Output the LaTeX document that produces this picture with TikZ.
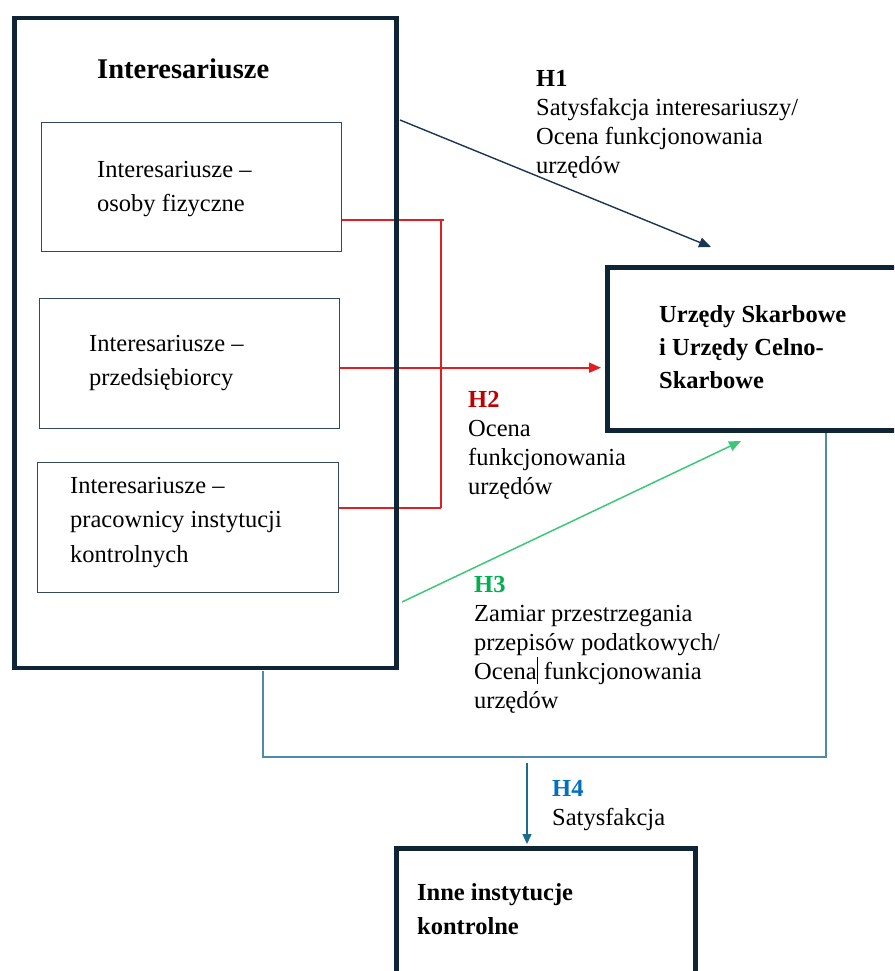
\documentclass[tikz,border=0pt]{standalone}
\usepackage{fontspec}
\setmainfont{Liberation Serif}
\usetikzlibrary{arrows.meta,backgrounds}

\definecolor{navy}{HTML}{0F2535}
\definecolor{boxline}{HTML}{34495A}
\definecolor{redline}{HTML}{E02020}
\definecolor{redtext}{HTML}{C00000}
\definecolor{greenline}{HTML}{3CC878}
\definecolor{greentext}{HTML}{00B050}
\definecolor{blueline}{HTML}{5189AB}
\definecolor{bluearrow}{HTML}{1F6A8F}
\definecolor{bluetext}{HTML}{0070C0}
\definecolor{honeline}{HTML}{1C3552}

% font sizes with their line spacings
\newcommand\ftitle{\fontsize{28.5}{34}\selectfont\bfseries}
\newcommand\fboxtxt{\fontsize{24.5}{34.5}\selectfont}
\newcommand\flab{\fontsize{24.5}{29}\selectfont}
% strut fixing the height of a first line
\newcommand\firstln{\rule{0pt}{18pt}}

\tikzset{
  bigbox/.style={draw=navy, line width=4.5pt, anchor=north west, inner sep=0pt},
  smallbox/.style={draw=boxline, line width=1.4pt, anchor=north west, inner sep=0pt},
  txt/.style={anchor=north west, inner sep=0pt, align=left},
  tip/.style={-{Triangle[length=12pt,width=10pt]}},
  redwire/.style={draw=redline, line width=1.8pt},
}

\begin{document}
\begin{tikzpicture}[x=1pt,y=-1pt]
\useasboundingbox (0,0) rectangle (894,971);
\clip (0,0) rectangle (894,971);

% boxes
\node[bigbox, minimum width=382pt, minimum height=649.5pt] (outer) at (12,16) {};
\node[smallbox, minimum width=300pt, minimum height=129pt] (box1) at (41,122) {};
\node[smallbox, minimum width=300pt, minimum height=130pt] (box2) at (39,298) {};
\node[smallbox, minimum width=301pt, minimum height=130pt] (box3) at (37,462) {};
\node[bigbox, minimum width=320pt, minimum height=163pt] (urz) at (605,265) {};
\node[bigbox, minimum width=299pt, minimum height=160pt] (inne) at (394,846) {};

% box texts
\node[txt, font=\ftitle] (tstake) at (97,59) {\firstln Interesariusze};
\node[txt, font=\fboxtxt] (t1) at (97,159) {\firstln Interesariusze –\\osoby fizyczne};
\node[txt, font=\fboxtxt] (t2) at (89,333) {\firstln Interesariusze –\\przedsiębiorcy};
\node[txt, font=\fboxtxt] (t3) at (70,475) {\firstln Interesariusze –\\pracownicy instytucji\\kontrolnych};
\node[txt, font={\fontsize{24.5}{33}\selectfont\bfseries}] (turz) at (659,304)
  {\firstln Urzędy Skarbowe\\i Urzędy Celno-\\Skarbowe};
\node[txt, font=\fboxtxt\bfseries] (tinne) at (417,882) {\firstln Inne instytucje\\kontrolne};

% H1
\coordinate (h1a) at (400,120);
\coordinate (h1b) at (711,247);
\draw[honeline, line width=1.4pt, tip] (h1a) -- (h1b);
\node[txt, font=\flab] (lh1) at (536,68)
  {\firstln\textbf{H1}\\Satysfakcja interesariuszy/\\Ocena funkcjonowania\\urzędów};

% H2: the red wires pass beneath the frame of the stakeholder box
\coordinate (rx) at (441,0);
\begin{pgfonlayer}{background}
\fill[white] (0,0) rectangle (894,971);
\draw[redwire] ([yshift=-32.5pt]box1.east) -- ++(102,0);
\draw[redwire] ([yshift=-32.5pt]box1.east -| rx) -- ([yshift=20pt]box3.east -| rx);
\draw[redwire] ([yshift=20pt]box3.east) -- ([yshift=20pt]box3.east -| rx);
\draw[redwire, tip, shorten >=4pt] ([yshift=-4pt]box2.east) -- ([yshift=-4pt]box2.east -| urz.west);
\end{pgfonlayer}
\node[txt, font=\flab] (lh2) at (468,389)
  {\firstln\textcolor{redtext}{\textbf{H2}}\\Ocena\\funkcjonowania\\urzędów};

% H3
\coordinate (h3a) at (402,602);
\coordinate (h3b) at (741,441);
\draw[greenline, line width=1.5pt, tip] (h3a) -- (h3b);
\node[txt, font=\flab] (lh3) at (474,574)
  {\firstln\textcolor{greentext}{\textbf{H3}}\\Zamiar przestrzegania\\przepisów podatkowych/\\Ocena\rule[-5pt]{1pt}{27pt} funkcjonowania\\urzędów};

% H4
\coordinate (b4a) at (263,671);
\coordinate (b4b) at (826,433);
\coordinate (bus) at (0,757);
\draw[blueline, line width=1.4pt] (b4a) -- (b4a |- bus) -- (b4b |- bus) -- (b4b);
\coordinate (h4a) at (527,763);
\draw[bluearrow, line width=1.4pt, -{Triangle[length=10pt,width=9pt]}, shorten >=2pt] (h4a) -- (h4a |- inne.north);
\node[txt, font=\flab] (lh4) at (552,778)
  {\firstln\textcolor{bluetext}{\textbf{H4}}\\Satysfakcja};
\end{tikzpicture}
\end{document}
